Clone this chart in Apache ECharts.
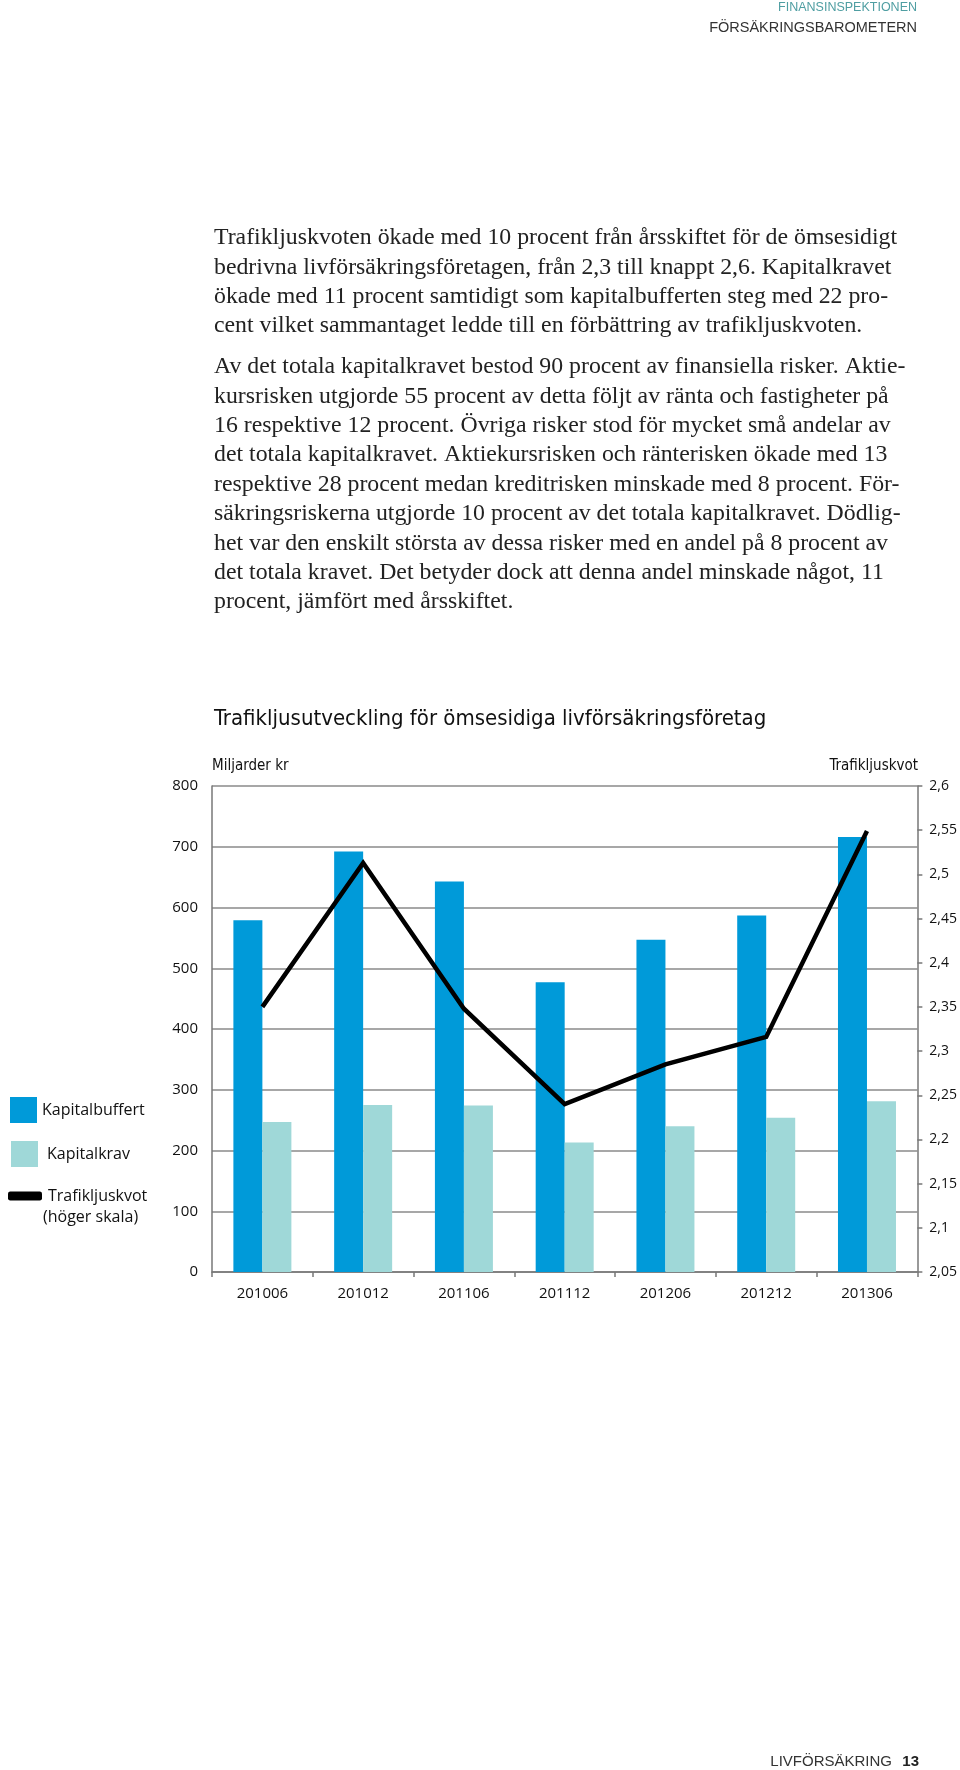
<!DOCTYPE html>
<html>
<head>
<meta charset="utf-8">
<script src="https://cdn.jsdelivr.net/npm/echarts@6/dist/echarts.min.js"></script>
<style>
html,body{margin:0;padding:0;background:#fff;}
#chart{width:960px;height:1770px;}
</style>
</head>
<body>
<div id="chart"></div>
<script>
// ---- Data ----
const categories = ['201006', '201012', '201106', '201112', '201206', '201212', '201306'];
const kapitalbuffert = [579, 692, 643, 477, 547, 587, 716];
const kapitalkrav = [247, 275, 274, 213, 240, 254, 281];
const trafikljuskvot = [2.35, 2.513, 2.348, 2.24, 2.285, 2.316, 2.549];
const leftAxis = { min: 0, max: 800, interval: 100 };
const rightAxis = { min: 2.05, max: 2.6, interval: 0.05 };

const headerLines = ['FINANSINSPEKTIONEN', 'FÖRSÄKRINGSBAROMETERN'];
const paragraph1 = [
  'Trafikljuskvoten ökade med 10 procent från årsskiftet för de ömsesidigt',
  'bedrivna livförsäkringsföretagen, från 2,3 till knappt 2,6. Kapitalkravet',
  'ökade med 11 procent samtidigt som kapitalbufferten steg med 22 pro-',
  'cent vilket sammantaget ledde till en förbättring av trafikljuskvoten.'
];
const paragraph2 = [
  'Av det totala kapitalkravet bestod 90 procent av finansiella risker. Aktie-',
  'kursrisken utgjorde 55 procent av detta följt av ränta och fastigheter på',
  '16 respektive 12 procent. Övriga risker stod för mycket små andelar av',
  'det totala kapitalkravet. Aktiekursrisken och ränterisken ökade med 13',
  'respektive 28 procent medan kreditrisken minskade med 8 procent. För-',
  'säkringsriskerna utgjorde 10 procent av det totala kapitalkravet. Dödlig-',
  'het var den enskilt största av dessa risker med en andel på 8 procent av',
  'det totala kravet. Det betyder dock att denna andel minskade något, 11',
  'procent, jämfört med årsskiftet.'
];
const chartTitle = 'Trafikljusutveckling för ömsesidiga livförsäkringsföretag';
const leftAxisTitle = 'Miljarder kr';
const rightAxisTitle = 'Trafikljuskvot';
const footerText = 'LIVFÖRSÄKRING';
const pageNumber = '13';

// ---- Styles ----
const SERIF = '"Liberation Serif", "DejaVu Serif", serif';
const NARROW = '"Liberation Sans Narrow", "DejaVu Sans Condensed", "Liberation Sans", sans-serif';
const SANS = '"Open Sans", "Liberation Sans", sans-serif';
const DARK_BLUE = '#009ad9';
const LIGHT_TEAL = '#9fd8d8';
const GRID = '#8a8a8a';

const graphics = [];
// header
graphics.push({ type: 'text', x: 917, y: 8, style: { text: headerLines[0], font: '12.5px "Liberation Sans", sans-serif', fill: '#4f9ea2', textAlign: 'right', textVerticalAlign: 'middle' } });
graphics.push({ type: 'text', x: 917, y: 28, style: { text: headerLines[1], font: '14.5px "Liberation Sans", sans-serif', fill: '#333', textAlign: 'right', textVerticalAlign: 'middle' } });
// body text
const lineH = 29.4;
paragraph1.forEach((t, i) => graphics.push({ type: 'text', x: 214, y: 238 + i * lineH, style: { text: t, font: '23.8px ' + SERIF, fill: '#222', textAlign: 'left', textVerticalAlign: 'middle' } }));
paragraph2.forEach((t, i) => graphics.push({ type: 'text', x: 214, y: 367 + i * lineH, style: { text: t, font: '23.8px ' + SERIF, fill: '#222', textAlign: 'left', textVerticalAlign: 'middle' } }));
// chart title & axis titles
graphics.push({ type: 'text', x: 214, y: 719, style: { text: chartTitle, font: '22px ' + NARROW, fill: '#111', textAlign: 'left', textVerticalAlign: 'middle' } });
graphics.push({ type: 'text', x: 212, y: 766, style: { text: leftAxisTitle, font: '15px ' + NARROW, fill: '#111', textAlign: 'left', textVerticalAlign: 'middle' } });
graphics.push({ type: 'text', x: 918, y: 766, style: { text: rightAxisTitle, font: '15px ' + NARROW, fill: '#111', textAlign: 'right', textVerticalAlign: 'middle' } });
// legend second line
graphics.push({ type: 'text', x: 43, y: 1217, style: { text: '(höger skala)', font: '16px ' + SANS, fill: '#111', textAlign: 'left', textVerticalAlign: 'middle' } });
// footer
graphics.push({ type: 'text', x: 892, y: 1762, style: { text: footerText, font: '15px "Liberation Sans", sans-serif', fill: '#333', textAlign: 'right', textVerticalAlign: 'middle' } });
graphics.push({ type: 'text', x: 919, y: 1762, style: { text: pageNumber, font: 'bold 15px "Liberation Sans", sans-serif', fill: '#222', textAlign: 'right', textVerticalAlign: 'middle' } });

const fmtRight = v => String(parseFloat(Number(v).toFixed(2))).replace('.', ',');

const chart = echarts.init(document.getElementById('chart'), null, { renderer: 'canvas' });
chart.setOption({
  backgroundColor: '#ffffff',
  animation: false,
  graphic: graphics,
  legend: [
    { left: 5, top: 1092, orient: 'vertical', itemWidth: 27, itemHeight: 26, selectedMode: false,
      data: [{ name: 'Kapitalbuffert', icon: 'rect' }], textStyle: { fontFamily: SANS, fontSize: 16, color: '#111' } },
    { left: 6, top: 1136, orient: 'vertical', itemWidth: 27, itemHeight: 26, selectedMode: false,
      data: [{ name: 'Kapitalkrav', icon: 'rect' }], textStyle: { fontFamily: SANS, fontSize: 16, color: '#111', padding: [0, 0, 0, 4] } },
    { left: 3, top: 1183, orient: 'vertical', itemWidth: 34, itemHeight: 9, selectedMode: false,
      data: [{ name: 'Trafikljuskvot', icon: 'roundRect' }], textStyle: { fontFamily: SANS, fontSize: 16, color: '#111', padding: [0, 0, 0, 1] } }
  ],
  grid: { left: 212, right: 42, top: 786, bottom: 498, containLabel: false },
  xAxis: {
    type: 'category',
    data: categories,
    boundaryGap: true,
    axisLine: { show: true, lineStyle: { color: '#777', width: 1.5 } },
    axisTick: { show: true, alignWithLabel: false, length: 5, lineStyle: { color: '#777', width: 1.5 } },
    axisLabel: { margin: 14, fontFamily: SANS, fontSize: 15, color: '#111' },
    splitLine: { show: false }
  },
  yAxis: [
    {
      type: 'value', min: leftAxis.min, max: leftAxis.max, interval: leftAxis.interval, position: 'left',
      axisLine: { show: true, lineStyle: { color: '#777', width: 1.5 } },
      axisTick: { show: false },
      axisLabel: { margin: 14, fontFamily: SANS, fontSize: 15, color: '#111' },
      splitLine: { show: true, lineStyle: { color: GRID, width: 1.5 } }
    },
    {
      type: 'value', min: rightAxis.min, max: rightAxis.max, interval: rightAxis.interval, position: 'right',
      axisLine: { show: true, lineStyle: { color: '#777', width: 1.5 } },
      axisTick: { show: true, inside: false, length: 5, lineStyle: { color: '#777', width: 1.5 } },
      axisLabel: { margin: 12, fontFamily: SANS, fontSize: 14, color: '#111', formatter: fmtRight },
      splitLine: { show: false }
    }
  ],
  series: [
    { name: 'Kapitalbuffert', type: 'bar', data: kapitalbuffert, barWidth: 29, barGap: '0%',
      itemStyle: { color: DARK_BLUE } },
    { name: 'Kapitalkrav', type: 'bar', data: kapitalkrav, barWidth: 29, barGap: '0%',
      itemStyle: { color: LIGHT_TEAL } },
    { name: 'Trafikljuskvot', type: 'line', yAxisIndex: 1, data: trafikljuskvot, showSymbol: false, symbol: 'none',
      lineStyle: { color: '#000', width: 4.5, join: 'miter' }, itemStyle: { color: '#000' } }
  ]
});
</script>
</body>
</html>
